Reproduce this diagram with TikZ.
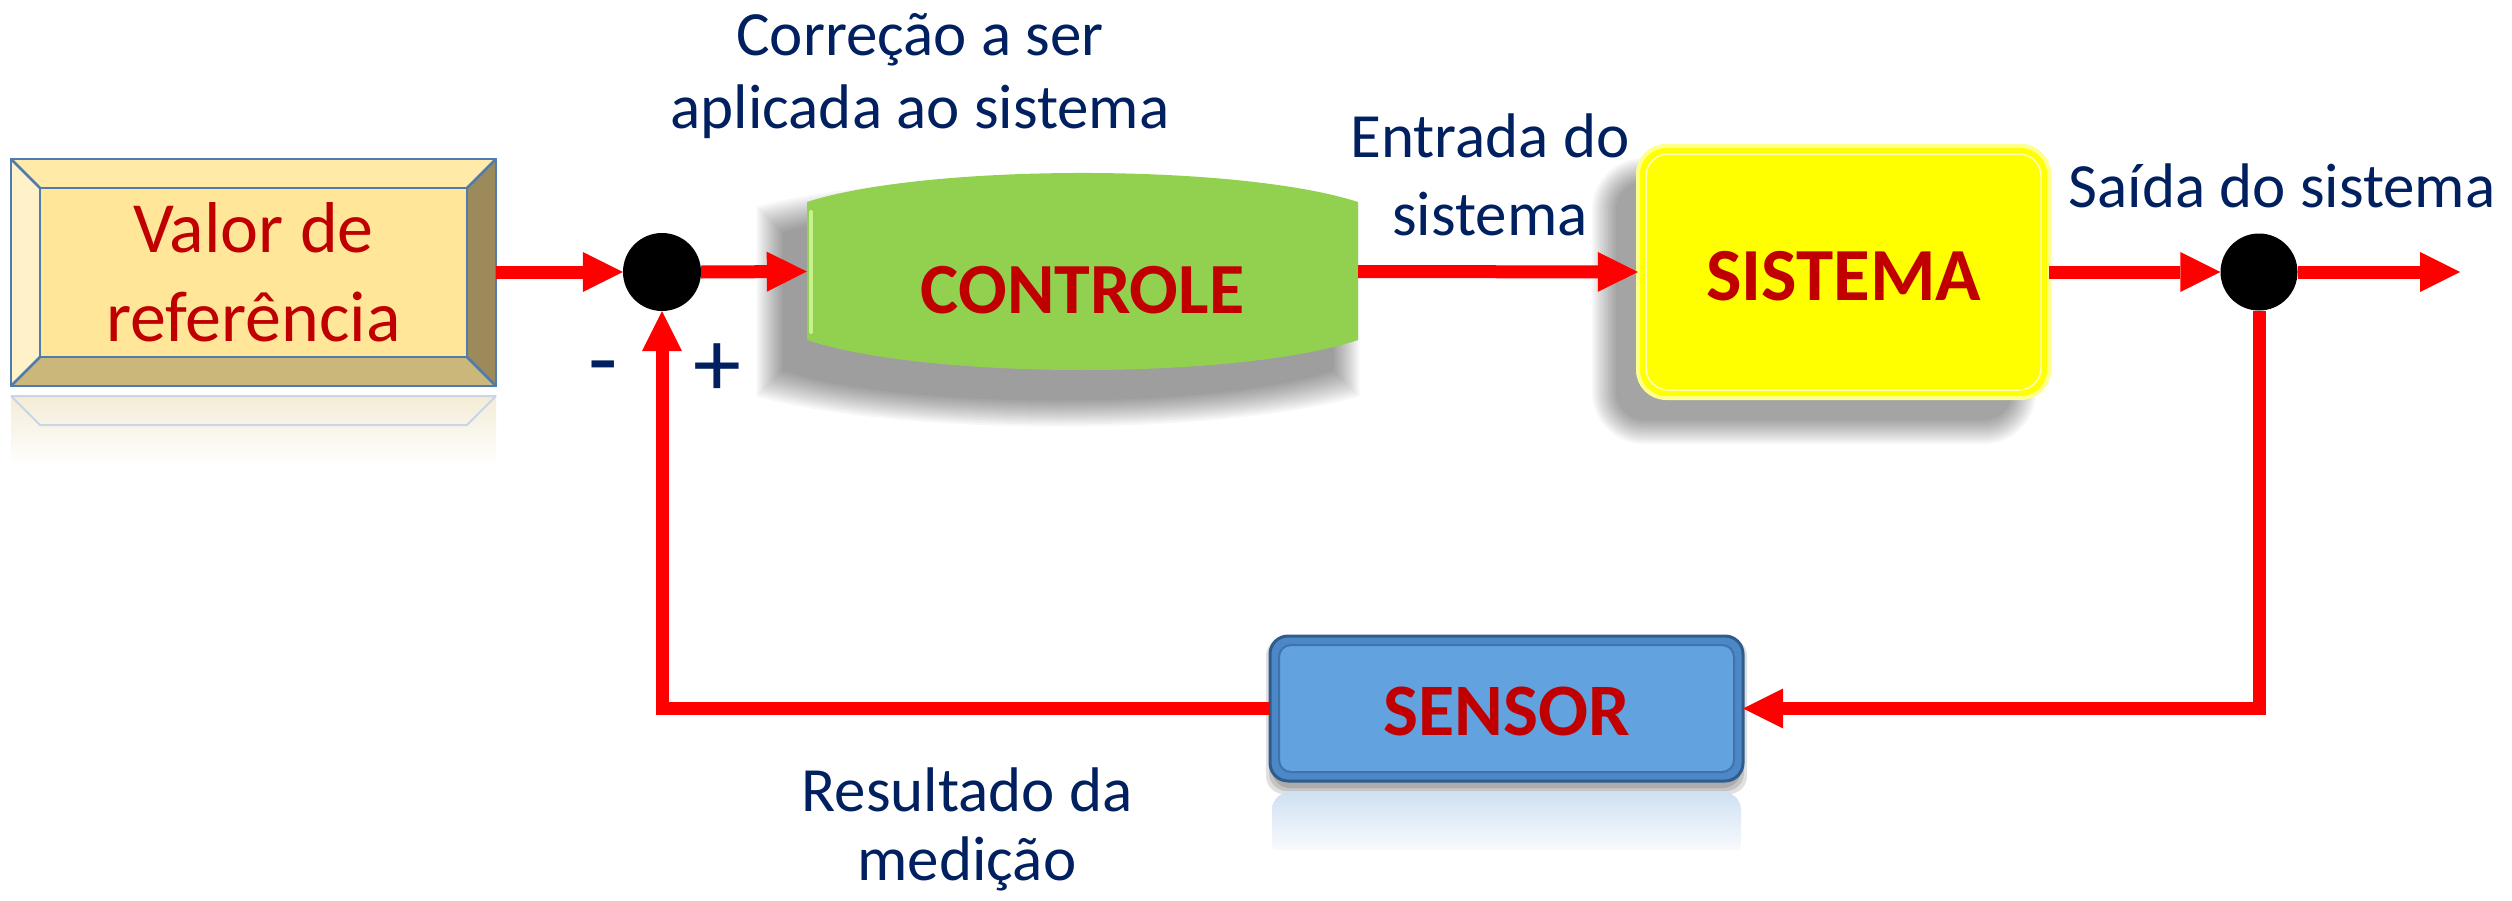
\documentclass[tikz,border=0pt]{standalone}
\usepackage{fontspec}
\setmainfont{Carlito}
\usetikzlibrary{arrows.meta}
\definecolor{arrowred}{HTML}{FF0000}
\definecolor{boxred}{HTML}{C00000}
\definecolor{navy}{HTML}{002060}
\definecolor{ctlgreen}{HTML}{92D050}
\definecolor{ctlhi}{HTML}{C8F08F}
\definecolor{sysyellow}{HTML}{FFFF00}
\definecolor{sysglow}{HTML}{FFFF8C}
\definecolor{sysinner}{HTML}{FFFFB8}
\definecolor{sensface}{HTML}{62A2DE}
\definecolor{sensring}{HTML}{4C88C6}
\definecolor{sensedge}{HTML}{2F5C8A}
\definecolor{sensinner}{HTML}{3D74AD}
\definecolor{sensrefl}{HTML}{CFE0F2}
\definecolor{valface}{HTML}{FFE699}
\definecolor{valtop}{HTML}{FFEAA8}
\definecolor{valleft}{HTML}{FFF1C8}
\definecolor{valbottom}{HTML}{CCB77A}
\definecolor{valright}{HTML}{9C8A5A}
\definecolor{valedge}{HTML}{4F7BAE}
\definecolor{valrefl}{HTML}{F3ECD6}
\definecolor{refline}{HTML}{C9D5E5}
\newcommand{\barrelshape}[3]{(#1-275.5-#3,#2-69.5-#3) .. controls (#1-155.5,#2-108.2-#3) and (#1+155.5,#2-108.2-#3) .. (#1+275.5+#3,#2-69.5-#3) -- (#1+275.5+#3,#2+68.5+#3) .. controls (#1+155.5,#2+108.5+#3) and (#1-155.5,#2+108.5+#3) .. (#1-275.5-#3,#2+68.5+#3) -- cycle}
\tikzset{
  conn/.style={draw=arrowred, line width=13bp, line join=miter,
    -{Triangle[length=40bp,width=40bp,line width=0pt]}},
  lbl/.style={text=navy, align=center, inner sep=0pt},
  boxtxt/.style={text=boxred, inner sep=0pt},
  junction/.style={circle, fill=black, inner sep=0pt},
  softshadow/.style={fill=black, opacity=0.03},
}
\begin{document}
\begin{tikzpicture}[x=1bp,y=-1bp]
\useasboundingbox (0,0) rectangle (2512,900);
\fill[white] (0,0) rectangle (2512,900);

% ---- Valor de referencia box (bevel) ----
\fill[valtop] (11,159) -- (496,159) -- (467,188) -- (40,188) -- cycle;
\fill[valleft] (11,159) -- (40,188) -- (40,357) -- (11,386) -- cycle;
\fill[valbottom] (11,386) -- (40,357) -- (467,357) -- (496,386) -- cycle;
\fill[valright] (496,159) -- (496,386) -- (467,357) -- (467,188) -- cycle;
\fill[valface] (40,188) rectangle (467,357);
\draw[valedge, line width=2.5bp] (11,159) rectangle (496,386);
\draw[valedge, line width=2.5bp] (40,188) rectangle (467,357);
\draw[valedge, line width=2.5bp] (11,159) -- (40,188) (496,159) -- (467,188)
  (11,386) -- (40,357) (496,386) -- (467,357);
% reflection
\shade[top color=valrefl, bottom color=white] (11,396) rectangle (496,466);
\draw[refline, line width=2bp] (11,396) -- (496,396) (11,396) -- (40,425) -- (467,425) -- (496,396);

% ---- Controle shadow and shape ----
\foreach \e in {0,2,...,26} {
  \fill[softshadow] \barrelshape{1058}{302}{\e};
}
\fill[ctlgreen] \barrelshape{1082.5}{271.5}{0};
\draw[ctlhi, line width=4bp, line cap=round] (811,212) -- (811,332);

% ---- Sistema shadow and shape ----
\foreach \e in {0,2,...,24} {
  \fill[softshadow, rounded corners=28bp+\e bp] (1616-\e,182-\e) rectangle (2012+\e,420+\e);
}
\fill[sysyellow, draw=sysglow, line width=4bp, rounded corners=28bp] (1638,146) rectangle (2049,398);
\draw[sysinner, line width=1.5bp, rounded corners=22bp] (1646,154) rectangle (2041,390);

% ---- Sensor shadow, reflection and shape ----
\foreach \e in {6,3,0} {
  \fill[fill=black, opacity=0.12, rounded corners=18bp] (1272-\e,644-\e) rectangle (1741+\e,788+\e);
}
\shade[top color=sensrefl, bottom color=white, rounded corners=18bp] (1272,792) rectangle (1741,860);
\fill[white] (1265,850) rectangle (1750,870);
\fill[sensring, draw=sensedge, line width=3bp, rounded corners=18bp] (1270,636) rectangle (1743,781);
\fill[sensface, draw=sensinner, line width=2bp, rounded corners=12bp] (1279,645) rectangle (1734,772);

% ---- Nodes ----
\node[boxtxt, align=center, minimum width=485bp, minimum height=227bp,
  font=\fontsize{72bp}{89bp}\selectfont] (valor) at (253.5,272) {Valor de\\referência};
\node[boxtxt, minimum width=551bp, minimum height=197bp, text height=83bp, text depth=0bp,
  font=\bfseries\fontsize{72bp}{80bp}\selectfont] (ctrl) at (1082.5,271.5) {CONTROLE};
\node[boxtxt, minimum width=411bp, minimum height=252bp, text height=56bp, text depth=0bp,
  font=\bfseries\fontsize{75bp}{80bp}\selectfont] (sist) at (1843.5,272) {SISTEMA};
\node[boxtxt, minimum width=473bp, minimum height=145bp, text height=54bp, text depth=0bp,
  font=\bfseries\fontsize{74bp}{80bp}\selectfont] (sens) at (1506.5,708.5) {SENSOR};
\node[junction, minimum size=78bp] (j1) at (662,272) {};
\node[junction, minimum size=77bp] (j2) at (2259,272) {};
\coordinate (out) at (2460,272);

\node[lbl, anchor=base, font=\fontsize{63bp}{73bp}\selectfont] (corr) at (920,128) {Correção a ser\\aplicada ao sistema};
\node[lbl, anchor=base, font=\fontsize{63bp}{78bp}\selectfont] (entr) at (1490,235) {Entrada do\\sistema};
\node[lbl, anchor=base, font=\fontsize{63bp}{78bp}\selectfont] (said) at (2282,207) {Saída do sistema};
\node[lbl, anchor=base, font=\fontsize{63bp}{69bp}\selectfont] (res) at (967,880) {Resultado da\\medição};
\node[lbl, anchor=base, font=\fontsize{96bp}{96bp}\selectfont] (minus) at (603,391) {-};
\node[lbl, anchor=base, font=\fontsize{96bp}{96bp}\selectfont] (plus) at (717,396) {+};

% ---- Connectors ----
\draw[conn] (valor.east) -- (j1.west);
\draw[conn] (j1.east) -- (ctrl.west);
\draw[conn] (ctrl.east) -- (sist.west);
\draw[conn] (sist.east) -- (j2.west);
\draw[conn] (j2.east) -- (out);
\draw[conn] (j2.south) |- (sens.east);
\draw[conn] (sens.west) -| (j1.south);
\end{tikzpicture}
\end{document}
